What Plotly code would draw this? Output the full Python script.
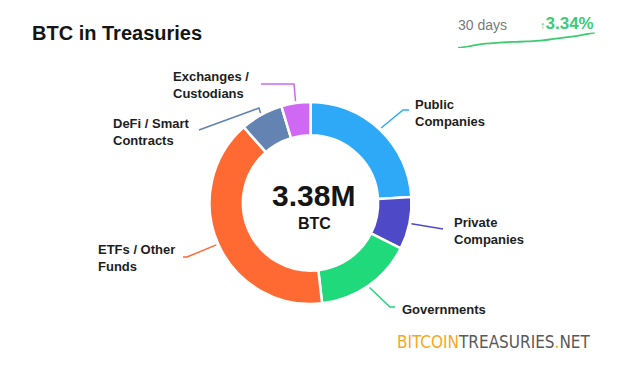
import math
import plotly.graph_objects as go

# ---------------- data ----------------
categories = ["Public<br>Companies", "Private<br>Companies", "Governments",
              "ETFs / Other<br>Funds", "DeFi / Smart<br>Contracts", "Exchanges /<br>Custodians"]
btc_held = [813000, 283000, 532000, 1364000, 231000, 157000]   # BTC
total_label = "3.38M"
unit_label = "BTC"
spark_days = [0, 3, 6, 9, 12, 15, 18, 21, 24, 27, 30]
spark_change = [0, 0.48, 0.92, 1.14, 1.30, 1.41, 1.58, 1.96, 2.35, 2.79, 3.34]
change_text = "3.34%"
period_text = "30 days"

# ---------------- style ----------------
W, H = 620, 372
colors = ["#2EA9F7", "#4E49C6", "#1FD97A", "#FF6A33", "#6383B3", "#CF68F3"]
CX, CY, R = 310.5, 203.0, 101.0
HOLE = 0.67
FONT = "Liberation Sans"

# label anchor (left x, middle y) and leader elbows in pixels (layout only)
label_pos = [(413, 113), (452, 231), (400, 309), (96, 258), (111, 132), (171, 85)]
leader_path = [
    [(403, 110), (409, 110)],
    [(443, 229)],
    [(390, 307), (395, 307)],
    [(187, 257), (183, 257)],
    [(259, 108), (199, 130)],
    [(294, 84), (261, 84)],
]

fig = go.Figure()

fig.add_trace(go.Pie(
    labels=categories, values=btc_held, sort=False, direction="clockwise",
    rotation=0, hole=HOLE, textinfo="none", hoverinfo="skip", showlegend=False,
    marker=dict(colors=colors, line=dict(color="white", width=2.5)),
    domain=dict(x=[(CX - R) / W, (CX + R) / W], y=[1 - (CY + R) / H, 1 - (CY - R) / H]),
))

# sparkline
fig.add_trace(go.Scatter(
    x=spark_days, y=spark_change, mode="lines", xaxis="x2", yaxis="y2",
    line=dict(color="#3DCB73", width=1.8, shape="spline"), hoverinfo="skip", showlegend=False,
))

# leader lines computed from slice mid-angles
total = sum(btc_held)
cum = 0
shapes = []
annotations = []
for i, v in enumerate(btc_held):
    mid = (cum + v / 2) / total * 2 * math.pi
    cum += v
    sx = CX + (R + 2) * math.sin(mid)
    sy = CY - (R + 2) * math.cos(mid)
    pts = [(sx, sy)] + leader_path[i]
    path = "M " + " L ".join(f"{x},{y}" for x, y in pts)
    shapes.append(dict(type="path", path=path, xref="x", yref="y",
                       line=dict(color=colors[i], width=1.5)))
    lx, ly = label_pos[i]
    annotations.append(dict(x=lx, y=ly, xref="x", yref="y", text=f"<b>{categories[i]}</b>",
                            showarrow=False, xanchor="left", yanchor="middle", align="left",
                            font=dict(family=FONT, size=13, color="#1E1E1E")))

annotations += [
    dict(x=30, y=33, xref="x", yref="y", text="<b>BTC in Treasuries</b>", showarrow=False,
         xanchor="left", yanchor="middle", font=dict(family=FONT, size=20, color="#151515")),
    dict(x=CX + 3, y=195, xref="x", yref="y", text=f"<b>{total_label}</b>", showarrow=False,
         xanchor="center", yanchor="middle", font=dict(family=FONT, size=30, color="#151515")),
    dict(x=CX + 4, y=223, xref="x", yref="y", text=f"<b>{unit_label}</b>", showarrow=False,
         xanchor="center", yanchor="middle", font=dict(family=FONT, size=16, color="#151515")),
    dict(x=456, y=25, xref="x", yref="y", text=period_text, showarrow=False,
         xanchor="left", yanchor="middle", font=dict(family=FONT, size=14, color="#7A7A7A")),
    dict(x=596, y=23, xref="x", yref="y",
         text=f"<span style='font-size:11px'>↑</span><b>{change_text}</b>", showarrow=False,
         xanchor="right", yanchor="middle", font=dict(family=FONT, size=17, color="#3DCB73")),
    dict(x=592, y=342, xref="x", yref="y",
         text="<span style='color:#F6A81E'>BITCOIN</span><span style='color:#59595B'>TREASURIES</span>"
              "<span style='color:#F6A81E'>.</span><span style='color:#59595B'>NET</span>",
         showarrow=False, xanchor="right", yanchor="middle",
         font=dict(family="DejaVu Sans Condensed, Liberation Sans", size=17, color="#59595B")),
]

fig.update_layout(
    width=W, height=H, margin=dict(l=0, r=0, t=0, b=0),
    paper_bgcolor="white", plot_bgcolor="rgba(0,0,0,0)",
    xaxis=dict(range=[0, W], visible=False, domain=[0, 1], fixedrange=True),
    yaxis=dict(range=[H, 0], visible=False, domain=[0, 1], fixedrange=True),
    xaxis2=dict(range=[0, 30], visible=False, domain=[458 / W, 595 / W], anchor="y2"),
    yaxis2=dict(range=[0, 3.34], visible=False, domain=[1 - 48 / H, 1 - 32.5 / H], anchor="x2"),
    shapes=shapes, annotations=annotations,
)

fig.write_html("out.html", config={"displayModeBar": False},
               post_script="document.body.style.margin='0';document.body.style.overflow='hidden';")
